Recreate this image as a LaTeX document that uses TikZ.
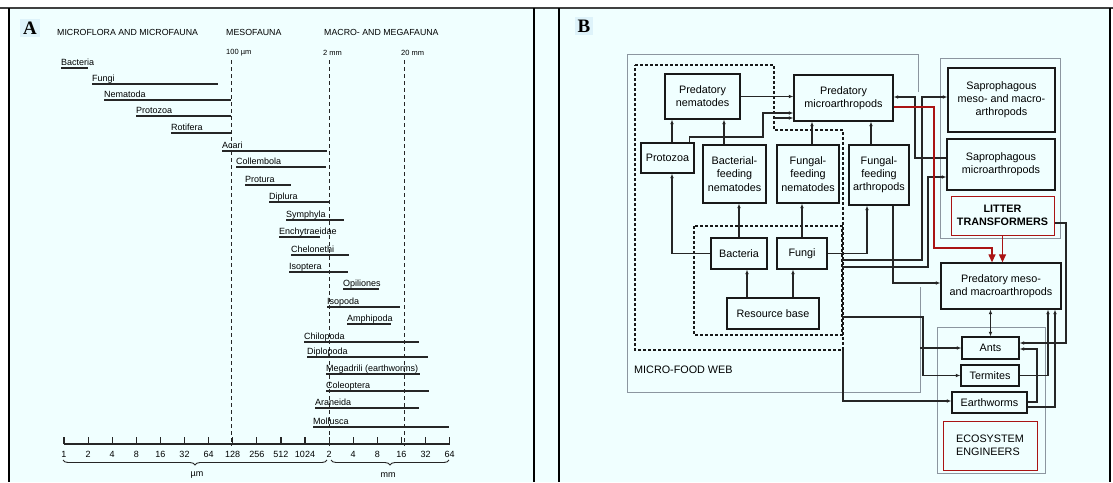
\documentclass[tikz,border=0pt]{standalone}
\usepackage{fontspec}
\setmainfont{Liberation Sans}
\newfontfamily\serifbf{Liberation Serif}
\usetikzlibrary{arrows.meta,calc,decorations.pathreplacing}
\definecolor{bg}{RGB}{240,255,255}
\definecolor{patch}{RGB}{222,243,250}
\definecolor{dred}{RGB}{170,20,20}
\definecolor{lgray}{RGB}{140,150,160}
\begin{document}
\begin{tikzpicture}[x=1pt,y=-1pt,
  bar/.style={draw=black!85,line width=1.3pt},
  lab/.style={anchor=base west,inner sep=0pt,font=\fontsize{9}{10}\selectfont},
  hdr/.style={anchor=west,inner sep=0pt,font=\fontsize{8.8}{10}\selectfont},
  sub/.style={anchor=west,inner sep=0pt,font=\fontsize{7.5}{9}\selectfont},
  ticklab/.style={inner sep=0pt,font=\fontsize{9}{10}\selectfont},
  vdash/.style={draw=black!85,line width=1pt,dash pattern=on 4pt off 3pt},
  box/.style={draw=black!90,line width=1.3pt,fill=bg,align=center,inner sep=1pt,font=\fontsize{10.8}{13.2}\selectfont},
  gbox/.style={draw=lgray,line width=0.9pt},
  dbox/.style={draw=black!90,line width=1.3pt,dash pattern=on 3pt off 2pt},
  arr/.style={draw=black!85,line width=1.1pt,-{Latex[length=4.5pt,width=3.8pt]}},
  arrboth/.style={draw=black!85,line width=1.1pt,{Latex[length=4.5pt,width=3.8pt]}-{Latex[length=4.5pt,width=3.8pt]}},
  redarr/.style={draw=dred,line width=1.2pt,-{Triangle[length=8pt,width=7pt]}},
  bigletter/.style={fill=patch,inner sep=3pt,font=\serifbf\bfseries\fontsize{19}{20}\selectfont}
]
\useasboundingbox (0,0) rectangle (1113,482);
% background and frame
\fill[white] (0,0) rectangle (1113,482);
\fill[bg] (9,8) rectangle (1110,482);
\draw[line width=2.2pt,black!75] (0,8) -- (1113,8);
\draw[line width=2pt,black] (9,8) -- (9,482);
\draw[line width=2pt,black] (534,8) -- (534,482);
\draw[line width=2pt,black] (559,8) -- (559,482);
\draw[line width=2pt,black] (1110,8) -- (1110,482);

% ================= PANEL A =================
\node[bigletter] (A) at (30,28) {A};
\node[hdr] (h1) at (57,32) {MICROFLORA AND MICROFAUNA};
\node[hdr] (h2) at (226,32) {MESOFAUNA};
\node[hdr] (h3) at (324,32) {MACRO- AND MEGAFAUNA};
\node[sub] (s1) at (226,53) {100 µm};
\node[sub] (s2) at (323,53) {2 mm};
\node[sub] (s3) at (401,53) {20 mm};
\draw[vdash] (231,60) -- (231,446);
\draw[vdash] (329,60) -- (329,446);
\draw[vdash] (404,60) -- (404,446);

\foreach \nm/\xa/\xb/\yy [count=\i] in {
  Bacteria/61/88/68,
  Fungi/92/218/84,
  Nematoda/104/231/100,
  Protozoa/136/231/116,
  Rotifera/171/231/133,
  Acari/222/327/151,
  Collembola/236/326/167,
  Protura/245/291/185,
  Diplura/269/329/202,
  Symphyla/286/344/220,
  Enchytraeidae/279/320/237,
  Chelonethi/291/349/255,
  Isoptera/289/348/272,
  Opiliones/343/379/289,
  Isopoda/327/400/307,
  Amphipoda/347/391/324,
  Chilopoda/304/419/342,
  Diplopoda/307/428/357,
  Megadrili (earthworms)/326/420/374,
  Coleoptera/326/429/391,
  Araneida/315/419/408,
  Mollusca/313/449/427}{
  \draw[bar] (\xa,\yy) -- (\xb,\yy);
  \node[lab] (tax\i) at (\xa,\yy-2.6) {\nm};
}

% axis
\draw[line width=1.3pt,black!85] (64,444) -- (449.6,444);
\foreach \lb [count=\k from 0] in {1,2,4,8,16,32,64,128,256,512,1024,2,4,8,16,32,64}{
  \draw[line width=1.2pt,black!85] (64+24.1*\k,444) -- (64+24.1*\k,437);
  \node[ticklab] (ax\k) at (64+24.1*\k,454) {\lb};
}
\draw[line width=0.9pt,black!85,decorate,decoration={brace,mirror,amplitude=5pt}] (63,460) -- (327,460);
\draw[line width=0.9pt,black!85,decorate,decoration={brace,mirror,amplitude=5pt}] (331,460) -- (449,460);
\node[ticklab] (um) at (197,475) {µm};
\node[ticklab] (mm) at (388,475) {mm};

% ================= PANEL B =================
\node[bigletter] (B) at (584,26) {B};

% grey outer box (micro-food web)
\draw[gbox] (918,92) -- (918,54) -- (627,54) -- (627,392) -- (920,392) -- (920,287);
\node[anchor=west,inner sep=0pt,font=\fontsize{10.8}{12}\selectfont] (mfw) at (634,370) {MICRO-FOOD WEB};
% dashed boxes
\draw[dbox] (635,65) -- (774,65) -- (774,130) -- (843,130) -- (843,350) -- (635,350) -- cycle;
\draw[dbox] (694,226) rectangle (842,335);
% grey boxes on right
\draw[gbox] (940,58) rectangle (1060,238);
\draw[gbox] (937,327) rectangle (1045,473);

\node[box,minimum width=75,minimum height=45] (pn) at (702.5,96.5) {Predatory\\nematodes};
\node[box,minimum width=99,minimum height=46] (pm) at (843.5,98) {Predatory\\microarthropods};
\node[box,minimum width=53,minimum height=30] (pz) at (667.5,158) {Protozoa};
\node[box,minimum width=63,minimum height=58] (bfn) at (734.5,174) {Bacterial-\\feeding\\nematodes};
\node[box,minimum width=62,minimum height=58] (ffn) at (808,174) {Fungal-\\feeding\\nematodes};
\node[box,minimum width=60,minimum height=60] (ffa) at (879,175) {Fungal-\\feeding\\arthropods};
\node[box,minimum width=56,minimum height=31] (bac) at (739,253.5) {Bacteria};
\node[box,minimum width=50,minimum height=31] (fun) at (802,253.5) {Fungi};
\node[box,minimum width=92,minimum height=31] (rb) at (773,313.5) {Resource base};
\node[box,minimum width=107,minimum height=64] (smm) at (1001.5,100) {Saprophagous\\meso- and macro-\\arthropods};
\node[box,minimum width=108,minimum height=51] (sm) at (1001,164.5) {Saprophagous\\microarthropods};
\node[box,draw=dred,line width=1pt,minimum width=103,minimum height=39,font=\bfseries\fontsize{10.8}{13.2}\selectfont] (lt) at (1002.5,215.5) {LITTER\\TRANSFORMERS};
\node[box,minimum width=120,minimum height=46] (pmm) at (1001,286) {Predatory meso-\\and macroarthropods};
\node[box,minimum width=57,minimum height=22] (ants) at (990.5,348) {Ants};
\node[box,minimum width=58,minimum height=21] (ter) at (990,375.5) {Termites};
\node[box,minimum width=75,minimum height=21] (ew) at (989.5,402.5) {Earthworms};
\node[box,draw=dred,line width=1pt,align=left,minimum width=94,minimum height=49] (ee) at (990,445.5) {ECOSYSTEM\\ENGINEERS};

% free ends on box edges
\coordinate (dq) at (774,118);
\coordinate (d1) at (842,260);
\coordinate (d2) at (842,267);
\coordinate (d3) at (842,317);
\coordinate (d4) at (920,348);
\coordinate (d5) at (843,350);

% connectors
\draw[arr] (pn.east) -- (pn.east -| pm.west);
\draw[arr] ([xshift=4.5pt]pz.north) -- ([xshift=4.5pt]pz.north |- pn.south);
\draw[arr] ([xshift=-10.5pt]bfn.north) -- ([xshift=-10.5pt]bfn.north |- pn.south);
\draw[arr] ([xshift=22pt]pz.north) |- (763,137) |- ([yshift=-15pt]pm.west);
\draw[arr] (dq) -- (dq -| pm.west);
\draw[arr] ([xshift=4pt]ffn.north) -- ([xshift=4pt]ffn.north |- pm.south);
\draw[arr] ([xshift=-8pt]ffa.north) -- ([xshift=-8pt]ffa.north |- pm.south);
\draw[arr] (bac.west) -| ([xshift=4.5pt]pz.south);
\draw[arr] (bac.north) -- (bac.north |- bfn.south);
\draw[arr] (fun.north) -- (fun.north |- ffn.south);
\draw[arr] (fun.east) -| ([xshift=-12pt]ffa.south);
\draw[arr] ([xshift=-26pt]rb.north) -- ([xshift=-26pt]rb.north |- bac.south);
\draw[arr] ([xshift=20pt]rb.north) -- ([xshift=20pt]rb.north |- fun.south);
\draw[arr] ([xshift=14pt]ffa.south) |- ([yshift=3pt]pmm.west);
\draw[arr] (d1) -- (922,260) |- ([yshift=3pt]smm.west);
\draw[arr] (d2) -- (928,267) |- ([yshift=-12.5pt]sm.west);
\draw[arr] ([yshift=6.5pt]sm.west) -- (915,158) |- ([yshift=1pt]pm.east);
\draw[redarr] ([yshift=-9pt]pm.east) -| (934,248) -| ([xshift=-9pt]pmm.north);
\draw[redarr] (lt.south) -- (lt.south |- pmm.north);
\draw[arr] ([yshift=-7.5pt]lt.east) -| (1066,343) -- ([yshift=5pt]ants.east);
\draw[arrboth] (ants.north) -- (ants.north |- pmm.south);
\draw[arr] (ter.east) -| ([xshift=47pt]pmm.south);
\draw[arr] ([yshift=-4.5pt]ew.east) -| ([xshift=54pt]pmm.south);
\draw[arr] ([yshift=0.5pt]ew.east) -- (1037,402) |- ([yshift=-1pt]ants.east);
\draw[arr] (d3) -- (923,317) |- (ter.west);
\draw[arr] (d4) -- (d4 -| ants.west);
\draw[arr] (d5) |- ([yshift=1.5pt]ew.west);
\end{tikzpicture}
\end{document}
